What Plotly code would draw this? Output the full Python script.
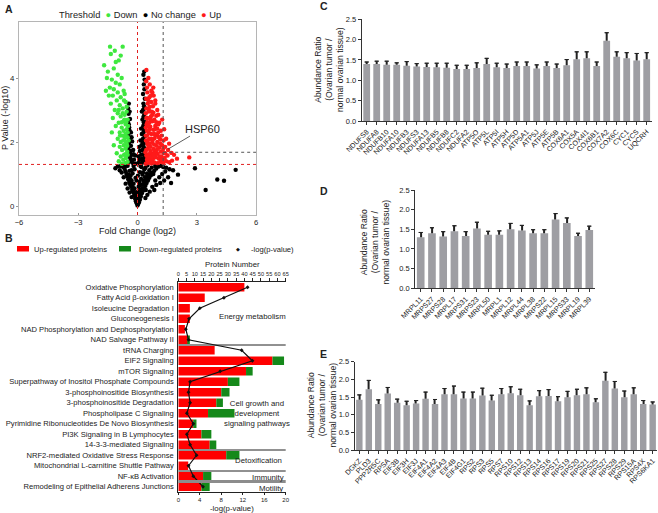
import plotly.graph_objects as go

W, H = 658, 513
FONT = "Liberation Sans, Arial, sans-serif"
TXT = "#222222"

# ---------------- Panel A: volcano (fold change log2, -log10 p) ----------------
A_DOWN = [(-1.39,4.98),(-0.75,4.98),(-1.15,4.85),(-1.35,4.75),(-0.85,4.7),(-1.69,4.4),(-1.1,4.5),
          (-0.95,4.55),(-1.2,4.3),(-1.5,4.2),(-1.0,4.1),(-0.8,4.0),(-1.3,3.95),(-1.1,3.85),(-0.9,3.8),
          (-1.4,3.7),(-1.2,3.65),(-0.7,3.6),(-1.0,3.55),(-1.25,3.45),(-0.85,3.4),(-1.05,3.3),(-0.6,3.25),
          (-1.35,3.2),(-0.9,3.15),(-0.75,3.05),(-1.15,3.0),(-0.55,2.95),(-1.0,2.9),(-0.65,2.85),(-0.85,2.8),
          (-1.25,2.75),(-0.5,2.7),(-0.7,2.65),(-0.95,2.6),(-0.6,2.55),(-1.1,2.5),(-0.8,2.45),(-0.55,2.4),
          (-0.7,2.35),(-0.9,2.3),(-0.6,2.25),(-0.75,2.2),(-0.5,2.15),(-1.0,2.1),(-0.65,2.05),(-0.85,2.0),
          (-0.55,1.95),(-0.7,1.9),(-0.9,1.85),(-0.6,1.8),(-0.78,1.75),(-0.52,1.7),(-1.05,1.65),(-0.68,1.6),
          (-0.85,1.55),(-0.58,1.5),(-0.72,1.45),(-0.95,1.4),(-0.62,1.35),(-0.8,1.32),(-0.5,1.38),(-1.2,1.9),
          (-1.3,2.3),(-0.45,2.05),(-0.48,2.5),(-0.65,3.5),(-1.45,3.45),(-1.55,4.0),(-1.6,3.6),(-0.5,1.6),
          (-0.58,2.0),(-0.66,2.7),(-0.55,3.1),(-0.75,2.9),(-0.88,2.2),(-0.62,1.62),(-0.72,2.05),
          (-0.52,1.88),(-0.63,2.15),(-0.57,2.62),(-0.8,2.62),(-0.68,3.3),(-0.5,2.3),(-0.95,3.0)]

A_NOCHANGE = [(0.0,0.02),(0.03,0.06),(-0.04,0.09),(0.07,0.12),(-0.08,0.15),(0.01,0.18),(0.12,0.2),
              (-0.12,0.23),(0.05,0.26),(-0.03,0.3),(0.17,0.3),(-0.17,0.33),(0.1,0.36),(-0.1,0.4),(0.22,0.4),
              (-0.22,0.44),(0.02,0.45),(0.28,0.48),(-0.27,0.5),(0.15,0.52),(-0.15,0.55),(0.34,0.56),
              (-0.32,0.6),(0.06,0.6),(0.4,0.63),(-0.37,0.67),(0.22,0.66),(-0.2,0.7),(0.46,0.72),(-0.42,0.75),
              (0.1,0.75),(0.3,0.78),(-0.3,0.8),(0.53,0.8),(-0.47,0.84),(0.18,0.85),(-0.1,0.88),(0.6,0.88),
              (-0.52,0.92),(0.38,0.9),(0.02,0.95),(0.68,0.96),(-0.56,1.0),(0.25,0.98),(-0.25,1.02),(0.48,1.02),
              (0.76,1.04),(-0.6,1.08),(0.12,1.06),(-0.4,1.1),(0.85,1.1),(0.6,1.12),(-0.65,1.16),(0.35,1.15),
              (-0.15,1.15),(0.95,1.17),(-0.72,1.22),(0.72,1.2),(1.05,1.23),(-0.85,1.25),(0.2,1.22),(-0.5,1.26),
              (1.18,1.26),(0.5,1.27),(-1.0,1.24),(1.3,1.22),(1.45,1.2),(-1.12,1.18),(1.62,1.15),(1.8,1.12),
              (0.9,0.8),(1.1,0.9),(1.25,1.0),(1.4,1.08),(0.75,0.6),(0.95,0.66),(1.15,0.72),(1.35,0.8),
              (1.55,0.9),(0.62,0.45),(0.85,0.5),(-0.6,0.7),(-0.7,0.9),(-0.8,1.05),(-0.9,1.12),(-0.5,0.55),
              (-0.4,0.42),(0.5,0.35),(0.4,0.25),(-0.3,0.28),(2.05,0.98),(1.7,0.72),(0.08,0.65),(-0.05,0.8),
              (0.28,1.05),(-0.35,0.95),(0.42,0.5),(0.15,1.25),(-0.2,1.25),(0.65,1.0),
              (0.05,0.1),(-0.02,0.14),(0.09,0.22),(-0.07,0.27),(0.13,0.33),(-0.13,0.37),(0.2,0.45),
              (-0.19,0.48),(0.25,0.55),(-0.25,0.6),(0.32,0.68),(-0.33,0.72),(0.38,0.8),(-0.38,0.85),
              (0.45,0.9),(-0.45,0.98),(0.55,0.98),(0.8,1.0),(-0.3,1.12),(0.4,1.2),(0.9,1.25),(-0.6,1.25),
              (2.91,1.18),(3.45,0.5),(4.04,0.83),(4.38,0.79),(4.97,1.13),
              (-0.1,1.32),(-0.25,1.35),(-0.42,1.38),(-0.18,1.45),(-0.35,1.48),(-0.46,1.55),(-0.28,1.6),
              (-0.12,1.58),(-0.4,1.68),(-0.22,1.75),(-0.47,1.8),(-0.33,1.88),(-0.43,1.98),(-0.27,2.02),
              (-0.38,2.12),(-0.46,2.22),(-0.33,2.3),(-0.42,2.45),(-0.48,2.6),(-0.38,2.72),(-0.45,2.88),
              (-0.47,3.05),(-0.44,3.2),(-0.3,1.42),(-0.38,1.58),(-0.2,1.62),(-0.35,1.72),(-0.42,1.88),
              (-0.3,2.15),(-0.4,2.35),(-0.44,2.55),(-0.4,2.95),
              (0.05,1.35),(0.15,1.33),(0.27,1.36),(0.37,1.38),(0.1,1.45),(0.22,1.48),(0.33,1.5),(0.05,1.55),
              (0.18,1.6),(0.3,1.62),(0.38,1.66),(0.12,1.72),(0.25,1.75),(0.35,1.8),(0.08,1.85),(0.2,1.9),
              (0.32,1.95),(0.15,2.05),(0.28,2.1),(0.37,2.18),(0.22,2.25),(0.33,2.35),(0.18,2.42),(0.3,2.52),
              (0.38,2.62),(0.25,2.7),(0.34,2.85),(0.22,2.95),(0.36,3.05),(0.3,3.2),(0.37,3.35),(0.28,3.5),
              (0.35,3.65),(0.32,3.8),(0.36,3.95),(0.3,4.1),(0.34,4.2),(0.25,1.42),(0.3,1.85),(0.25,2.0),
              (0.3,2.3),(0.27,2.45),(0.32,2.62),(0.3,2.78),(0.28,3.0),(0.33,3.12)]

A_UP = [(0.42,1.32),(0.55,1.35),(0.7,1.33),(0.85,1.36),(1.0,1.34),(1.15,1.38),(1.3,1.35),(1.45,1.4),
        (1.6,1.37),(1.75,1.42),(2.0,1.48),(2.62,1.52),(0.48,1.45),(0.62,1.5),(0.78,1.47),(0.93,1.52),
        (1.08,1.48),(1.22,1.55),(1.38,1.5),(1.52,1.58),(0.45,1.58),(0.58,1.62),(0.72,1.65),(0.88,1.68),
        (1.02,1.63),(1.18,1.7),(1.33,1.66),(1.55,1.75),(1.72,1.66),(1.85,1.6),(0.44,1.75),(0.52,1.8),
        (0.66,1.85),(0.81,1.78),(0.96,1.88),(1.1,1.82),(1.25,1.9),(1.4,1.85),(0.5,1.95),(0.75,1.98),
        (1.0,2.0),(0.43,2.05),(0.6,2.1),(0.86,2.12),(1.15,2.08),(1.32,2.05),(0.48,2.2),(0.7,2.25),
        (0.92,2.22),(1.05,2.3),(1.22,2.2),(0.55,2.35),(0.8,2.38),(1.0,2.42),(1.18,2.35),(0.42,2.45),
        (0.65,2.48),(0.9,2.5),(0.46,2.55),(0.6,2.6),(0.75,2.65),(1.1,2.6),(0.85,2.7),(0.5,2.75),
        (0.68,2.8),(0.95,2.82),(0.42,2.9),(0.58,2.95),(0.8,2.92),(1.05,2.85),(0.45,3.05),(0.62,3.1),
        (0.78,3.12),(0.52,3.2),(0.7,3.25),(0.9,3.3),(0.44,3.35),(0.6,3.4),(0.82,3.45),(0.5,3.55),
        (0.7,3.6),(0.48,3.7),(0.62,3.8),(0.44,3.9),(0.75,3.55),(0.55,4.0),(0.45,4.25),(0.8,3.7),
        (0.9,3.2),(1.0,3.0),(1.25,2.7),(1.35,2.4),(1.45,2.1),(1.6,1.95),(0.52,1.4),(0.65,1.72),
        (0.9,1.6),(1.12,1.55),(0.58,2.28),(0.76,2.05),(1.0,2.2),(0.5,2.62),(0.72,2.95),(0.55,1.9),
        (0.84,1.92),(1.2,1.45),(0.68,1.4),(0.95,2.62),(0.62,2.4),(0.4,1.68),(1.3,1.78),
        (0.5,1.55),(0.62,1.95),(0.72,1.55),(0.85,2.25),(0.98,1.75),(1.08,2.15),(1.15,1.95),(0.55,2.5),
        (0.7,2.1),(0.8,1.6),(0.48,2.35),(0.66,2.7),(0.88,2.4),(1.05,2.55),(0.58,3.0),(0.75,2.85),
        (0.55,3.3),(0.68,3.45),(1.28,1.45),(1.4,1.65),(0.42,2.2),(0.45,2.75),(0.52,2.05)]

A_P_CUT = 1.3          # red dashed horizontal
A_FC_CUT = 0.0         # red dashed vertical
HSP60 = (1.55, 1.78)   # highlighted protein (fold change, -log10 p)

# ---------------- Panel B: pathways ----------------
B_PATHWAYS = ["Oxidative Phosphorylation", "Fatty Acid β-oxidation I", "Isoleucine Degradation I",
              "Gluconeogenesis I", "NAD Phosphorylation and Dephosphorylation", "NAD Salvage Pathway II",
              "tRNA Charging", "EIF2 Signaling", "mTOR Signaling",
              "Superpathway of Inositol Phosphate Compounds", "3-phosphoinositide Biosynthesis",
              "3-phosphoinositide Degradation", "Phospholipase C Signaling",
              "Pyrimidine Ribonucleotides De Novo Biosynthesis", "PI3K Signaling in B Lymphocytes",
              "14-3-3-mediated Signaling", "NRF2-mediated Oxidative Stress Response",
              "Mitochondrial L-carnitine Shuttle Pathway", "NF-κB Activation",
              "Remodeling of Epithelial Adherens Junctions"]
B_UP = [40, 16, 7, 7, 4, 6, 22, 57, 41, 30, 26, 23, 18, 9, 14, 19, 29, 6, 15, 14]
B_DOWN = [0, 0, 0, 0, 0, 1, 0, 7, 4, 7, 5, 4, 16, 2, 6, 4, 8, 0, 5, 5]
B_LOGP = [12.9, 8.5, 4.0, 2.0, 1.4, 1.9, 11.8, 13.8, 7.8, 2.2, 1.9, 2.2, 1.6, 2.8, 1.6, 2.2, 3.4, 1.9, 2.8, 4.6]

# ---------------- Panel C ----------------
C_GENES = ["NDUFS8","NDUFA8","NDUFB10","NDUFA10","NDUFB3","NDUFS3","NDUFA13","NDUFB5","NDUFB8","NDUFC2",
           "NDUFA2","ATP5O","ATP5L","ATP5I","ATP5H","ATP5D","ATP5A1","ATP5J","ATP5E","ATP5B","COX6A1",
           "COX5A","COX4I1","COX6B1","COX7A2","COX6C","CYC1","CYCS","UQCRH"]
C_MEAN = [1.40,1.40,1.38,1.38,1.36,1.34,1.33,1.32,1.31,1.28,1.28,1.30,1.40,1.32,1.30,1.35,1.35,1.29,
          1.35,1.30,1.37,1.52,1.54,1.35,1.97,1.58,1.54,1.49,1.52]
C_ERR = [0.05,0.07,0.09,0.05,0.10,0.07,0.09,0.10,0.11,0.09,0.09,0.13,0.14,0.10,0.10,0.10,0.10,0.09,
         0.10,0.10,0.14,0.18,0.16,0.10,0.20,0.12,0.14,0.17,0.16]

# ---------------- Panel D ----------------
D_GENES = ["MRPL11","MRPS27","MRPS28","MRPL17","MRPS31","MRPS23","MRPL50","MRPL1","MRPL12","MRPL44",
           "MRPL38","MRPS22","MRPL15","MRPS33","MRPL19","MRPL39"]
D_MEAN = [1.30,1.40,1.32,1.45,1.33,1.52,1.36,1.36,1.50,1.47,1.40,1.40,1.75,1.66,1.33,1.48]
D_ERR = [0.12,0.14,0.12,0.14,0.11,0.16,0.09,0.10,0.15,0.13,0.09,0.09,0.15,0.13,0.07,0.10]

# ---------------- Panel E ----------------
E_GENES = ["DGKZ","PLD3","PPP2R5C","RPSA","EIF3B","EIF3H","EIF3J","EIF4A1","EIF4A2","EIF4A3","EIF4B",
           "EIF4G1","RPS2","RPS3","RPS5","RPS7","RPS10","RPS12","RPS13","RPS14","RPS16","RPS17","RPS19",
           "RPS20","RPS21","RPS25","RPS27","RPS28","RPS29","RPS15A","RPS4X","RPS6KA1"]
E_MEAN = [1.42,1.72,1.30,1.60,1.34,1.27,1.32,1.45,1.30,1.58,1.58,1.46,1.46,1.54,1.40,1.58,1.61,1.55,
          1.27,1.52,1.53,1.38,1.49,1.55,1.58,1.35,1.96,1.74,1.49,1.58,1.30,1.29]
E_ERR = [0.14,0.25,0.12,0.17,0.10,0.11,0.08,0.19,0.13,0.16,0.23,0.18,0.18,0.21,0.15,0.16,0.18,0.17,
         0.12,0.16,0.18,0.13,0.17,0.17,0.18,0.10,0.24,0.20,0.18,0.18,0.10,0.07]

# ---------------- helpers ----------------
def fx(p):
    return p / W

def fy(p):
    return 1 - p / H

RED_A = "#ff1a1a"
GREEN_A = "#3fe83f"
RED_B = "#ff0000"
GREEN_B = "#15891a"
BAR_GRAY = "#9e9ea3"

fig = go.Figure()

# Panel A traces
for pts, col in ((A_NOCHANGE, "#000000"), (A_DOWN, GREEN_A), (A_UP, RED_A)):
    fig.add_trace(go.Scatter(x=[p[0] for p in pts], y=[p[1] for p in pts], mode="markers",
                             marker=dict(color=col, size=4.4, line=dict(width=0)),
                             xaxis="x", yaxis="y", showlegend=False, hoverinfo="skip"))

# Panel B traces
fig.add_trace(go.Bar(y=B_PATHWAYS, x=B_UP, orientation="h", marker=dict(color=RED_B, line=dict(width=0)),
                     width=0.8, xaxis="x2", yaxis="y2", showlegend=False))
fig.add_trace(go.Bar(y=B_PATHWAYS, x=B_DOWN, base=B_UP, orientation="h",
                     marker=dict(color=GREEN_B, line=dict(width=0)),
                     width=0.8, xaxis="x2", yaxis="y2", showlegend=False))
fig.add_trace(go.Scatter(y=B_PATHWAYS, x=B_LOGP, mode="lines+markers",
                         line=dict(color="#111111", width=1.2),
                         marker=dict(symbol="diamond", size=3, color="#111111"),
                         xaxis="x3", yaxis="y2", showlegend=False))

# Panels C, D, E traces
def add_bar_panel(genes, mean, err, xa, ya, stem_w):
    fig.add_trace(go.Bar(x=genes, y=mean, marker=dict(color=BAR_GRAY, line=dict(width=0)),
                         width=0.68, xaxis=xa, yaxis=ya, showlegend=False))
    fig.add_trace(go.Bar(x=genes, y=err, base=mean, marker=dict(color="#222222", line=dict(width=0)),
                         width=stem_w, xaxis=xa, yaxis=ya, showlegend=False,
                         error_y=dict(type="data", array=[0] * len(err), arrayminus=[0] * len(err),
                                      symmetric=False, color="#222222", thickness=1, width=2)))

add_bar_panel(C_GENES, C_MEAN, C_ERR, "x4", "y4", 0.11)
add_bar_panel(D_GENES, D_MEAN, D_ERR, "x5", "y5", 0.1)
add_bar_panel(E_GENES, E_MEAN, E_ERR, "x6", "y6", 0.11)

tickfont_small = dict(family=FONT, size=7.5, color=TXT)

def bar_xaxis(dom, anchor, n):
    return dict(domain=dom, anchor=anchor, type="category", range=[-0.5, n - 0.5], showline=True,
                linecolor="#333333", linewidth=1, ticks="outside", ticklen=3, tickcolor="#333333",
                tickangle=-45, color=TXT, tickfont=dict(family=FONT, size=7.1, color=TXT), showgrid=False,
                zeroline=False, automargin=False, fixedrange=True)

def bar_yaxis(dom, anchor):
    return dict(domain=dom, anchor=anchor, range=[0, 2.5], dtick=0.5, tickformat=".1f", showline=True,
                linecolor="#333333", linewidth=1, ticks="outside", ticklen=3, tickcolor="#333333",
                color=TXT, tickfont=tickfont_small, showgrid=False, zeroline=False, automargin=False)

layout = dict(
    width=W, height=H, margin=dict(l=0, r=0, t=0, b=0, pad=0), autosize=False,
    paper_bgcolor="white", plot_bgcolor="white", template="none", barmode="overlay",
    font=dict(family=FONT, color=TXT), showlegend=False,
    # Panel A
    xaxis=dict(domain=[fx(19), fx(256)], anchor="y", range=[-6, 6], tickvals=[-6, -3, 0, 3, 6],
               showline=True, mirror=True, linecolor="#b5b5b5", linewidth=1, ticks="inside", ticklen=2,
               tickcolor="#999999", color=TXT, tickfont=dict(family=FONT, size=7.6, color=TXT), showgrid=False,
               zeroline=False, automargin=False),
    yaxis=dict(domain=[fy(215), fy(22)], anchor="x", range=[-0.28, 5.75], tickvals=[0, 2, 4],
               showline=True, mirror=True, linecolor="#b5b5b5", linewidth=1, ticks="outside", ticklen=2,
               tickcolor="#999999", color=TXT, tickfont=dict(family=FONT, size=7.8, color=TXT), showgrid=False,
               zeroline=False, automargin=False),
    # Panel B
    xaxis2=dict(domain=[fx(178.3), fx(285.7)], anchor="y2", side="top", range=[0, 65], dtick=5,
                tickangle=0, showline=True, linecolor="#222222", linewidth=1, ticks="outside", ticklen=3,
                tickcolor="#222222", color=TXT, tickfont=dict(family=FONT, size=5.6, color=TXT),
                showgrid=False, zeroline=False, automargin=False),
    xaxis3=dict(domain=[fx(178.3), fx(285.7)], anchor="y2", overlaying="x2", side="bottom", range=[0, 20],
                dtick=4, tickangle=0, showline=True, linecolor="#222222", linewidth=1, ticks="outside",
                ticklen=2, tickcolor="#222222", color=TXT, tickfont=dict(family=FONT, size=6, color=TXT),
                showgrid=False, zeroline=False, automargin=False),
    yaxis2=dict(domain=[fy(492), fy(282)], anchor="x2", type="category", autorange=False,
                range=[len(B_PATHWAYS) - 0.5, -0.5], showline=True, linecolor="#222222", linewidth=1,
                ticks="", color=TXT, tickfont=dict(family=FONT, size=7.6, color=TXT), showgrid=False,
                zeroline=False, automargin=False, ticklabelstandoff=2),
    # Panel C
    xaxis4=bar_xaxis([fx(361.7), fx(651.7)], "y4", len(C_GENES)),
    yaxis4=bar_yaxis([fy(121), fy(19.3)], "x4"),
    # Panel D
    xaxis5=bar_xaxis([fx(415.1), fx(594.9)], "y5", len(D_GENES)),
    yaxis5=bar_yaxis([fy(288.3), fy(190)], "x5"),
    # Panel E
    xaxis6=bar_xaxis([fx(354.6), fx(657.4)], "y6", len(E_GENES)),
    yaxis6=bar_yaxis([fy(450), fy(361.7)], "x6"),
)
fig.update_layout(**layout)

shapes = []
# Panel A reference lines
shapes.append(dict(type="line", xref="x", yref="y domain", x0=A_FC_CUT, x1=A_FC_CUT, y0=0, y1=1,
                   line=dict(color="#e02020", width=1, dash="dot")))
shapes.append(dict(type="line", xref="x domain", yref="y", x0=0, x1=1, y0=A_P_CUT, y1=A_P_CUT,
                   line=dict(color="#e02020", width=1, dash="dot")))
shapes.append(dict(type="line", xref="x", yref="y domain", x0=1.3, x1=1.3, y0=0, y1=1,
                   line=dict(color="#555555", width=1, dash="dot")))
shapes.append(dict(type="line", xref="x", yref="y", x0=1.3, x1=6, y0=1.68, y1=1.68,
                   line=dict(color="#555555", width=1, dash="dot")))
# Panel B group separators
for yv in (5.5, 15.5, 17.5):
    shapes.append(dict(type="line", xref="x2 domain", yref="y2", x0=0, x1=1, y0=yv, y1=yv,
                       line=dict(color="#222222", width=1)))
shapes.append(dict(type="line", xref="x2 domain", yref="y2", x0=0, x1=1, y0=18.5, y1=18.5,
                   line=dict(color="#8c8c8c", width=3)))
# Panel B legend swatches
shapes.append(dict(type="rect", xref="paper", yref="paper", x0=fx(17), x1=fx(29), y0=fy(251.5), y1=fy(246),
                   fillcolor=RED_B, line=dict(width=0)))
shapes.append(dict(type="rect", xref="paper", yref="paper", x0=fx(119), x1=fx(131), y0=fy(251.5), y1=fy(246),
                   fillcolor=GREEN_B, line=dict(width=0)))
fig.update_layout(shapes=shapes)

anns = []

def ann(text, x, y, size=8, xanchor="center", yanchor="middle", angle=0, color=TXT, **kw):
    d = dict(text=text, x=fx(x), y=fy(y), xref="paper", yref="paper", showarrow=False,
             xanchor=xanchor, yanchor=yanchor, textangle=angle,
             font=dict(family=FONT, size=size, color=color))
    d.update(kw)
    anns.append(d)

# panel letters
ann("<b>A</b>", 3, 9, 10.5, xanchor="left")
ann("<b>B</b>", 3, 238, 10.5, xanchor="left")
ann("<b>C</b>", 318, 6, 10.5, xanchor="left")
ann("<b>D</b>", 318, 191, 10.5, xanchor="left")
ann("<b>E</b>", 318, 354, 10.5, xanchor="left")

# Panel A legend + titles
ann("Threshold  <span style='color:%s'>●</span> Down  <span style='color:#000'>●</span> No change  "
    "<span style='color:%s'>●</span> Up" % (GREEN_A, RED_A), 140, 15, 9.3)
ann("Fold Change (log2)", 137.5, 231, 9)
ann("P Value (-log10)", 5, 118, 9, angle=-90)
anns.append(dict(text="HSP60", x=HSP60[0], y=HSP60[1], xref="x", yref="y", ax=3.3, ay=2.42,
                 axref="x", ayref="y", showarrow=True, arrowhead=0, arrowwidth=0.8, arrowcolor="#333333",
                 font=dict(family=FONT, size=11, color=TXT), xanchor="center", yanchor="middle",
                 standoff=0))

# Panel B legend and titles
ann("Up-regulated proteins", 32, 249, 7.6, xanchor="left")
ann("Down-regulated proteins", 137, 249, 7.6, xanchor="left")
ann("◆", 238, 249, 5, color="#111111")
ann("-log(p-value)", 249, 249, 7.6, xanchor="left")
ann("Protein Number", 232, 264, 7.8)
ann("-log(p-value)", 232, 508, 7.8)
ann("Energy metabolism", 252, 316, 7.8)
ann("Cell growth and<br>development<br>signaling pathways", 257, 413, 7.8)
ann("Detoxification", 258, 460, 7.8)
ann("Immunity", 286, 477, 7.8, xanchor="right")
ann("Motility", 285, 488.5, 7.8, xanchor="right")

# Panels C/D/E y titles
ytitle = "Abundance Ratio<br>(Ovarian tumor /<br>normal ovarian tissue)"
ann(ytitle, 329, 70, 8.6, angle=-90)
ann(ytitle, 374.5, 242, 8.6, angle=-90)
ann(ytitle, 321.5, 405, 8.6, angle=-90)

fig.update_layout(annotations=anns)

fig.write_html("out.html", config={"displayModeBar": False},
               post_script="document.body.style.margin='0';document.body.style.padding='0';")
